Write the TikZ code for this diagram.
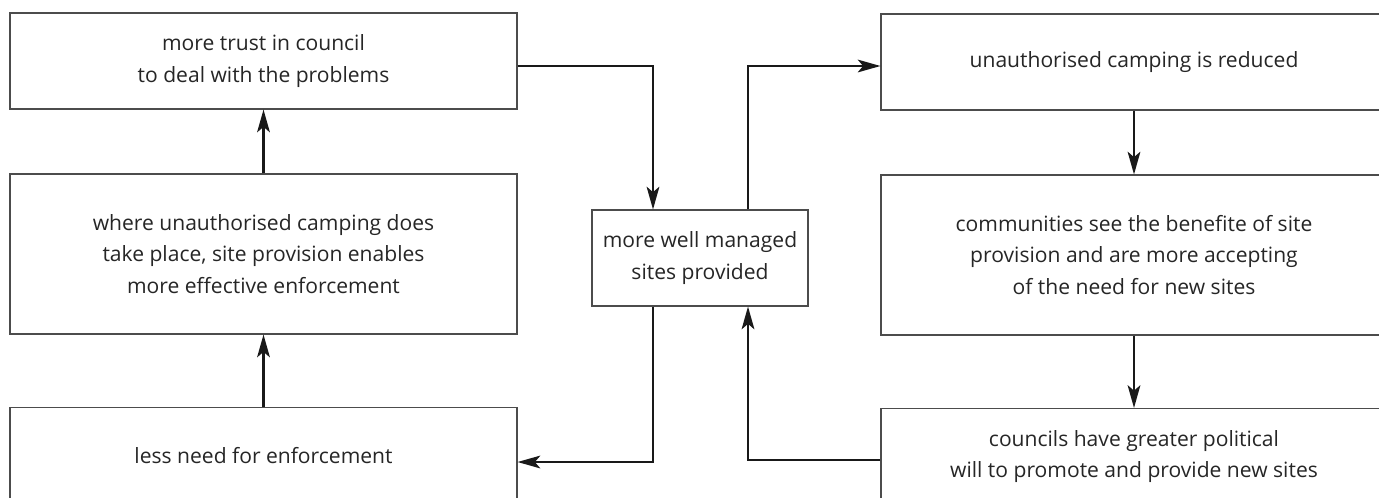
\documentclass[tikz,border=0pt]{standalone}
\usepackage{fontspec}
\setmainfont{Open Sans}
\usetikzlibrary{arrows.meta}
\begin{document}
\begin{tikzpicture}[x=0.75pt,y=-0.75pt,
  box/.style={draw=black!70, line width=0.8pt, align=center, inner sep=0pt,
    text=black!85, font=\fontsize{15.8}{23.5}\selectfont},
  lbox/.style={box, minimum width=380.25pt},
  rbox/.style={box, minimum width=379.5pt},
  conn/.style={line width=1.9pt, draw=black!90,
    -{Stealth[length=17pt,width=9.5pt,inset=4pt]}}]
\clip (0,0) rectangle (1379,497);
\fill[white] (0,0) rectangle (1379,497);
% left column
\node[lbox, minimum height=72pt] (b1) at (263.5,61) {more trust in council\\to deal with the problems};
\node[lbox, minimum height=120pt] (b2) at (263.5,254) {where unauthorised camping does\\take place, site provision enables\\more effective enforcement};
\node[lbox, minimum height=72pt] (b3) at (263.5,455.5) {less need for enforcement};
% right column
\node[rbox, minimum height=72pt] (b4) at (1134,62) {unauthorised camping is reduced};
\node[rbox, minimum height=120pt] (b5) at (1134,255) {communities see the benefite of site\\provision and are more accepting\\of the need for new sites};
\node[rbox, minimum height=72pt] (b6) at (1134,456.5) {councils have greater political\\will to promote and provide new sites};
% centre
\node[box, minimum width=162pt, minimum height=72pt] (c) at (700,258) {more well managed\\sites provided};
% junctions
\coordinate (j1) at (653,66);
\coordinate (j2) at (748,66);
\coordinate (j5) at (748,460);
\coordinate (j6) at (653,462);
% connectors
\draw[conn] (b1.east |- j1) -- (j1) -- (j1 |- c.north);
\draw[conn] (j2 |- c.north) -- (j2) -- (j2 -| b4.west);
\draw[conn] (b4.south) -- (b5.north);
\draw[conn] (b5.south) -- (b6.north);
\draw[conn] (b6.west |- j5) -- (j5) -- (j5 |- c.south);
\draw[conn] (j6 |- c.south) -- (j6) -- (j6 -| b3.east);
\draw[conn] (b3.north) -- (b2.south);
\draw[conn] (b2.north) -- (b1.south);
\end{tikzpicture}
\end{document}
